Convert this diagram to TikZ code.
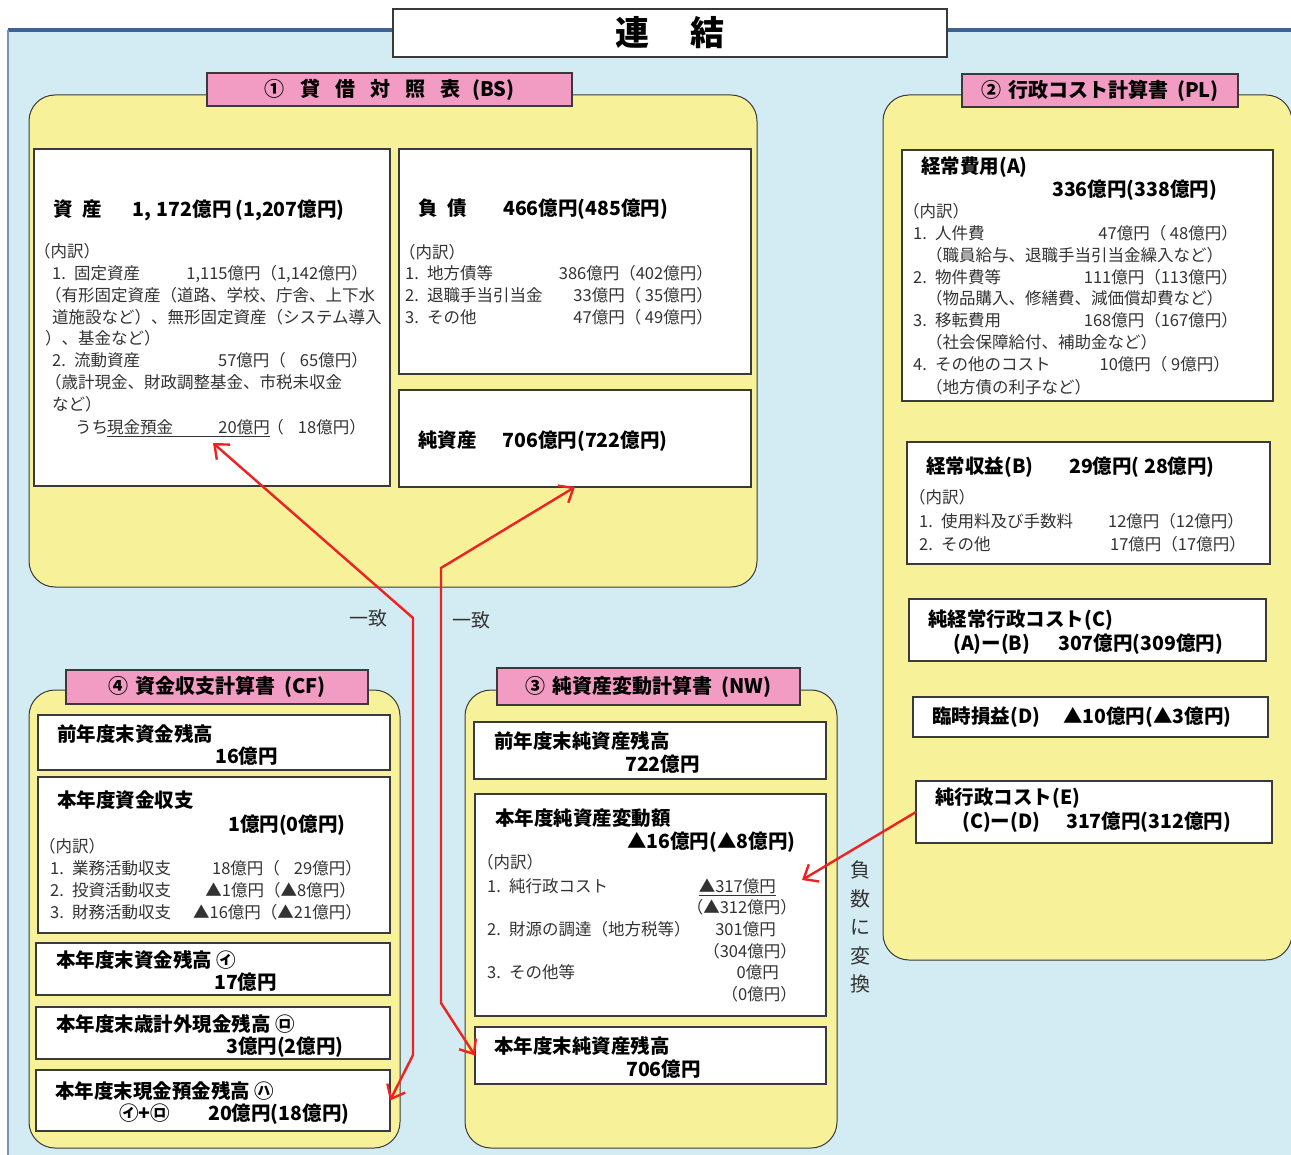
\documentclass[tikz,border=0pt]{standalone}
\usepackage{fontspec}
\setmainfont{Noto Sans CJK JP}
\usetikzlibrary{arrows.meta}
\definecolor{bgblue}{HTML}{D3ECF3}
\definecolor{yel}{HTML}{F7F29A}
\definecolor{pinkt}{HTML}{F29CC3}
\definecolor{edge}{HTML}{3A3A3A}
\definecolor{topblue}{HTML}{3D6391}
\definecolor{bodyc}{HTML}{333333}
\definecolor{arrred}{HTML}{EE2222}
\tikzset{
 panel/.style={draw=edge, fill=yel, line width=1pt, rounded corners=26pt, anchor=north west, inner sep=0pt, outer sep=0pt},
 boxn/.style={draw=edge, fill=white, line width=1.3pt, inner sep=0pt, outer sep=0pt, anchor=north west},
 tabn/.style={draw=edge, fill=pinkt, line width=1.5pt, inner sep=0pt, outer sep=0pt, anchor=north west, font=\bfseries\fontsize{20}{20}\selectfont},
 bt/.style={anchor=base west, inner sep=0pt, yshift=-7.4pt, font=\bfseries\fontsize{19.5}{19.5}\selectfont},
 nt/.style={anchor=base west, inner sep=0pt, yshift=-6.2pt, text=bodyc, font=\fontsize{16.5}{16.5}\selectfont},
 ne/.style={nt, anchor=base east},
 lbl/.style={anchor=base west, inner sep=0pt, yshift=-7pt, text=bodyc, font=\fontsize{19}{19}\selectfont},
 arr/.style={draw=arrred, line width=2.4pt, {Straight Barb[length=12pt,width=20pt]}-{Straight Barb[length=12pt,width=20pt]}},
 arrone/.style={draw=arrred, line width=2.4pt, -{Straight Barb[length=12pt,width=20pt]}},
}
\begin{document}
\begin{tikzpicture}[x=1pt,y=-1pt]
\useasboundingbox (0,0) rectangle (1291,1155);
% background
\fill[bgblue] (8,30) rectangle (1300,1160);
\draw[topblue, line width=3.5pt] (8,30) -- (1300,30);
\draw[topblue!70, line width=2pt] (8,30) -- (8,1160);
% title
\node[boxn, line width=1.2pt, minimum width=554pt, minimum height=48pt, font=\bfseries\fontsize{34}{34}\selectfont] (title) at (393,9) {連\hspace{42pt}結};
% panels
\node[panel, minimum width=728pt, minimum height=492pt] (pBS) at (29,95) {};
\node[panel, minimum width=409pt, minimum height=865pt] (pPL) at (883,95) {};
\node[panel, minimum width=371pt, minimum height=458pt] (pCF) at (29,690) {};
\node[panel, minimum width=372pt, minimum height=458pt] (pNW) at (465,690) {};
% tabs
\node[tabn, minimum width=365pt, minimum height=33pt] (tBS) at (207,73) {①\hspace{16pt}貸\hspace{15pt}借\hspace{15pt}対\hspace{15pt}照\hspace{15pt}表\hspace{12pt}(BS)};
\node[tabn, minimum width=276pt, minimum height=33pt] (tPL) at (962,74) {②\hspace{7pt}行政コスト計算書\hspace{9pt}(PL)};
\node[tabn, minimum width=302pt, minimum height=34pt] (tCF) at (66,670) {④\hspace{7pt}資金収支計算書\hspace{9pt}(CF)};
\node[tabn, minimum width=303pt, minimum height=37pt] (tNW) at (497,668) {③\hspace{7pt}純資産変動計算書\hspace{9pt}(NW)};
% BS boxes
\node[boxn, minimum width=356pt, minimum height=337pt] (bsA) at (34,149) {};
\node[boxn, minimum width=352pt, minimum height=225pt] (bsL) at (399,149) {};
\node[boxn, minimum width=352pt, minimum height=97pt] (na) at (399,390) {};
% PL boxes
\node[boxn, minimum width=371pt, minimum height=251pt] (pl1) at (902,150) {};
\node[boxn, minimum width=363pt, minimum height=122pt] (pl2) at (907,442) {};
\node[boxn, minimum width=357pt, minimum height=62pt] (pl3) at (909,599) {};
\node[boxn, minimum width=355pt, minimum height=40pt] (pl4) at (913,697) {};
\node[boxn, minimum width=356pt, minimum height=62pt] (pl5) at (916,781) {};
% CF boxes
\node[boxn, minimum width=352pt, minimum height=55pt] (cf1) at (38,715) {};
\node[boxn, minimum width=352pt, minimum height=156pt] (cf2) at (38,777) {};
\node[boxn, minimum width=354pt, minimum height=52pt] (cf3) at (36,943) {};
\node[boxn, minimum width=354pt, minimum height=52pt] (cf4) at (36,1007) {};
\node[boxn, minimum width=354pt, minimum height=61pt] (cf5) at (36,1070) {};
% NW boxes
\node[boxn, minimum width=352pt, minimum height=57pt] (nw1) at (474,722) {};
\node[boxn, minimum width=351pt, minimum height=222pt] (nw2) at (475,794) {};
\node[boxn, minimum width=351pt, minimum height=57pt] (nw3) at (475,1027) {};
% ---- BS assets text
\node[bt] (a0) at (53,209) {資\hspace{10pt}産\hspace{30pt}1,\hspace{6pt}172億円\hspace{4pt}(1,207億円)};
\node[nt] (a1) at (34,251) {（内訳）};
\node[nt] (a2) at (52,273) {1.\enspace 固定資産};
\node[ne] (a2b) at (368,273) {1,115億円（1,142億円）};
\node[nt] (a3) at (45,295) {（有形固定資産（道路、学校、庁舎、上下水};
\node[nt] (a4) at (52,317) {道施設など）、無形固定資産（システム導入};
\node[nt] (a5) at (45,338) {）、基金など）};
\node[nt] (a6) at (52,360) {2.\enspace 流動資産};
\node[ne] (a6b) at (368,360) {57億円（\hspace{14pt}65億円）};
\node[nt] (a7) at (45,382) {（歳計現金、財政調整基金、市税未収金};
\node[nt] (a8) at (52,404) {など）};
\node[nt] (a9) at (75,427) {うち};
\node[nt] (a9b) at (107,427) {現金預金};
\node[ne] (a9c) at (270,427) {20億円};
\node[ne] (a9d) at (366,427) {（\hspace{14pt}18億円）};
\draw[bodyc, line width=0.8pt] ([yshift=-3.5pt]a9b.base west) -- ([yshift=-3.5pt]a9c.base east);
% ---- BS liabilities
\node[bt] (l0) at (418,208) {負\hspace{10pt}債\hspace{36pt}466億円(485億円)};
\node[nt] (l1) at (399,252) {（内訳）};
\node[nt] (l2) at (405,273) {1.\enspace 地方債等};
\node[ne] (l2b) at (713,273) {386億円（402億円）};
\node[nt] (l3) at (405,295) {2.\enspace 退職手当引当金};
\node[ne] (l3b) at (713,295) {33億円（ 35億円）};
\node[nt] (l4) at (405,317) {3.\enspace その他};
\node[ne] (l4b) at (713,317) {47億円（ 49億円）};
\node[bt] (n0) at (418,440) {純資産\hspace{26pt}706億円(722億円)};
% ---- PL
\node[bt] (p0) at (921,166) {経常費用(A)};
\node[bt] (p0b) at (1052,189) {336億円(338億円)};
\node[nt] (p1) at (903,211) {（内訳）};
\node[nt] (p2) at (913,233) {1.\enspace 人件費};
\node[ne] (p2b) at (1238,233) {47億円（ 48億円）};
\node[nt] (p3) at (926,255) {（職員給与、退職手当引当金繰入など）};
\node[nt] (p4) at (913,277) {2.\enspace 物件費等};
\node[ne] (p4b) at (1238,277) {111億円（113億円）};
\node[nt] (p5) at (926,298) {（物品購入、修繕費、減価償却費など）};
\node[nt] (p6) at (913,320) {3.\enspace 移転費用};
\node[ne] (p6b) at (1238,320) {168億円（167億円）};
\node[nt] (p7) at (926,342) {（社会保障給付、補助金など）};
\node[nt] (p8) at (913,364) {4.\enspace その他のコスト};
\node[ne] (p8b) at (1230,364) {10億円（ 9億円）};
\node[nt] (p9) at (926,387) {（地方債の利子など）};
\node[bt] (q0) at (926,466) {経常収益(B)};
\node[bt] (q0b) at (1069,466) {29億円( 28億円)};
\node[nt] (q1) at (909,497) {（内訳）};
\node[nt] (q2) at (919,521) {1.\enspace 使用料及び手数料};
\node[ne] (q2b) at (1244,521) {12億円（12億円）};
\node[nt] (q3) at (919,544) {2.\enspace その他};
\node[ne] (q3b) at (1246,544) {17億円（17億円）};
\node[bt] (r0) at (928,619) {純経常行政コスト(C)};
\node[bt] (r1) at (953,643) {(A)ー(B)};
\node[bt] (r1b) at (1058,643) {307億円(309億円)};
\node[bt] (s0) at (932,716) {臨時損益(D)};
\node[bt] (s0b) at (1063,716) {▲10億円(▲3億円)};
\node[bt] (u0) at (935,797) {純行政コスト(E)};
\node[bt] (u1) at (962,821) {(C)ー(D)};
\node[bt] (u1b) at (1066,821) {317億円(312億円)};
% ---- CF
\node[bt] (c0) at (57,734) {前年度末資金残高};
\node[bt] (c0b) at (215,756) {16億円};
\node[bt] (c1) at (57,800) {本年度資金収支};
\node[bt] (c1b) at (228,824) {1億円(0億円)};
\node[nt] (c2) at (39,846) {（内訳）};
\node[nt] (c3) at (50,868) {1.\enspace 業務活動収支};
\node[ne] (c3b) at (362,868) {18億円（\hspace{14pt}29億円）};
\node[nt] (c4) at (50,890) {2.\enspace 投資活動収支};
\node[ne] (c4b) at (356,890) {▲1億円（▲8億円）};
\node[nt] (c5) at (50,912) {3.\enspace 財務活動収支};
\node[ne] (c5b) at (362,912) {▲16億円（▲21億円）};
\node[bt] (c6) at (56,960) {本年度末資金残高 ㋑};
\node[bt] (c6b) at (214,982) {17億円};
\node[bt] (c7) at (56,1024) {本年度末歳計外現金残高 ㋺};
\node[bt] (c7b) at (226,1046) {3億円(2億円)};
\node[bt] (c8) at (55,1091) {本年度末現金預金残高 ㋩};
\node[bt] (c8b) at (119,1113) {㋑+㋺};
\node[bt] (c8c) at (208,1113) {20億円(18億円)};
% ---- NW
\node[bt] (w0) at (494,741) {前年度末純資産残高};
\node[bt] (w0b) at (625,764) {722億円};
\node[bt] (w1t) at (495,818) {本年度純資産変動額};
\node[bt] (w1b) at (627,841) {▲16億円(▲8億円)};
\node[nt] (w2t) at (477,862) {（内訳）};
\node[nt] (w3t) at (487,886) {1.\enspace 純行政コスト};
\node[ne] (w3b) at (776,886) {▲317億円};
\draw[bodyc, line width=0.8pt] ([yshift=-3.5pt]w3b.base west) -- ([yshift=-3.5pt]w3b.base east);
\node[ne] (w3c) at (797,907) {（▲312億円）};
\node[nt] (w4t) at (487,929) {2.\enspace 財源の調達（地方税等）};
\node[ne] (w4b) at (776,929) {301億円};
\node[ne] (w4c) at (797,951) {（304億円）};
\node[nt] (w5t) at (487,972) {3.\enspace その他等};
\node[ne] (w5b) at (779,972) {0億円};
\node[ne] (w5c) at (797,994) {（0億円）};
\node[bt] (w6) at (494,1046) {本年度末純資産残高};
\node[bt] (w6b) at (626,1069) {706億円};
% labels
\node[lbl] (itchiA) at (349,618) {一致};
\node[lbl] (itchiB) at (452,620) {一致};
\node[inner sep=0pt, align=center, text=bodyc, font=\fontsize{20}{28.5}\selectfont] (fusu) at (860,927) {負\\数\\に\\変\\換};
% arrows
\coordinate (cashBS) at (213,443);
\coordinate (k1) at (413,618);
\coordinate (k2) at (413,1055);
\draw[arr] (cashBS) -- (k1) -- (k2) -- (cf5.east);
\coordinate (k3) at (441,1003);
\coordinate (k4) at (441,568);
\draw[arr] (nw3.west) -- (k3) -- (k4) -- (na.south);
\coordinate (nwCost) at (802,880);
\draw[arrone] (pl5.west) -- (nwCost);
\end{tikzpicture}
\end{document}
